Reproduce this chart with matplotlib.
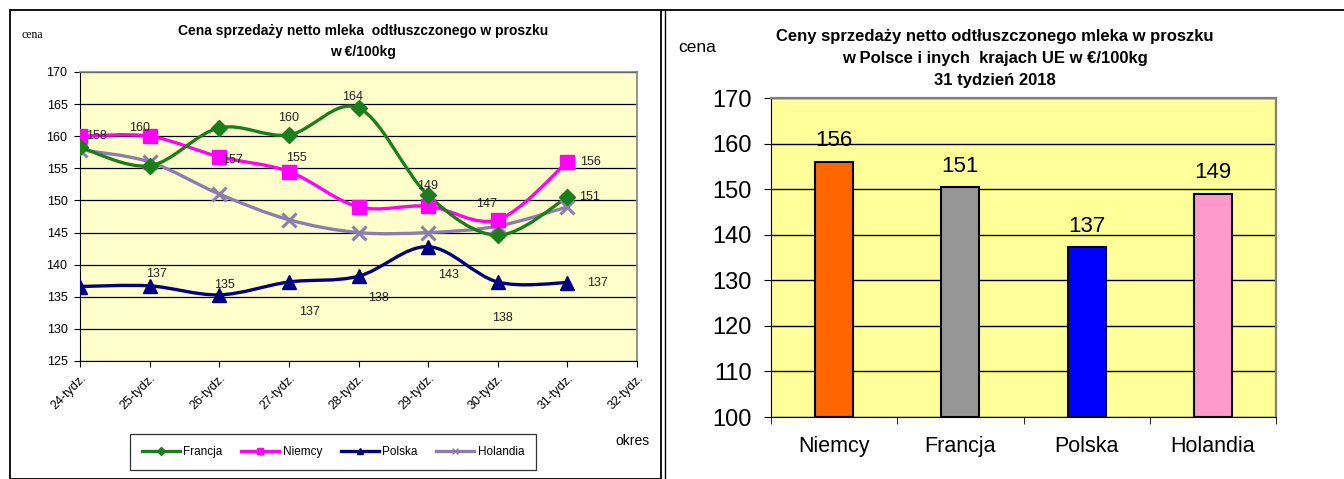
import numpy as np
import matplotlib.pyplot as plt
from matplotlib.path import Path
from matplotlib.patches import PathPatch, Rectangle
from matplotlib.lines import Line2D

plt.rcParams['font.family'] = ['Liberation Sans', 'DejaVu Sans']

# --- data: left chart (weekly prices) ---
weeks = ['24-tydz.', '25-tydz.', '26-tydz.', '27-tydz.', '28-tydz.',
         '29-tydz.', '30-tydz.', '31-tydz.', '32-tydz.']
francja = [158.3, 155.4, 161.3, 160.2, 164.4, 150.8, 144.6, 150.5]
niemcy = [160.0, 160.0, 156.8, 154.5, 149.0, 149.1, 147.0, 156.0]
polska = [136.6, 136.7, 135.3, 137.3, 138.2, 142.8, 137.3, 137.2]
holandia = [157.9, 156.0, 151.0, 147.0, 145.0, 145.0, 146.0, 149.0]

# data labels as shown on the chart: (series, week index, text)
point_labels = [
    ('Francja', 0, '158'), ('Niemcy', 1, '160'), ('Niemcy', 2, '157'),
    ('Francja', 3, '160'), ('Niemcy', 3, '155'), ('Francja', 4, '164'),
    ('Niemcy', 5, '149'), ('Niemcy', 6, '147'), ('Niemcy', 7, '156'),
    ('Francja', 7, '151'),
    ('Polska', 1, '137'), ('Polska', 2, '135'), ('Polska', 3, '137'),
    ('Polska', 4, '138'), ('Polska', 5, '143'), ('Polska', 6, '138'),
    ('Polska', 7, '137'),
]
# label offsets in pixels (dx, dy), same order as point_labels
label_offsets = [(16, 11), (-10, 8), (13, -3), (0, 17), (8, 14), (-6, 11),
                 (-1, 20), (-11, 16), (23, 0), (22, 0),
                 (7, 12), (5, 10), (21, -30), (20, -22), (20, -28), (5, -36),
                 (30, 0)]

# --- data: right chart (week 31) ---
countries = ['Niemcy', 'Francja', 'Polska', 'Holandia']
week31 = [156.0, 150.5, 137.2, 149.0]
week31_labels = ['156', '151', '137', '149']


def smooth_path(xs, ys):
    # Excel-like smoothed line: cubic Bezier through every point
    pts = np.column_stack([xs, ys]).astype(float)
    n = len(pts)
    verts = [pts[0]]
    codes = [Path.MOVETO]
    for i in range(n - 1):
        p0 = pts[i - 1] if i > 0 else pts[i]
        p1 = pts[i]
        p2 = pts[i + 1]
        p3 = pts[i + 2] if i + 2 < n else pts[i + 1]
        c1 = p1 + (p2 - p0) / 6.0
        c2 = p2 - (p3 - p1) / 6.0
        verts += [c1, c2, p2]
        codes += [Path.CURVE4] * 3
    return Path(verts, codes)


fig = plt.figure(figsize=(13.44, 4.79), dpi=100)
W, H = 1344, 479

# panel frames
fig.add_artist(Rectangle((10 / W, 0), (661 - 10) / W, 1 - 10 / H,
                         transform=fig.transFigure, fill=False, lw=1.3, ec='black'))
fig.add_artist(Line2D([661 / W, 1], [1 - 10 / H, 1 - 10 / H],
                      transform=fig.transFigure, lw=1.3, color='black'))
fig.add_artist(Line2D([665 / W, 665 / W], [0, 1 - 10 / H],
                      transform=fig.transFigure, lw=1.0, color='black'))

# ---------------- left chart ----------------
ax = fig.add_axes([80 / W, 1 - 361 / H, (637 - 80) / W, (361 - 72) / H])
ax.set_facecolor('#FFFFCC')
ax.set_xlim(0, len(weeks) - 1)
ax.set_ylim(125, 170)
ax.set_yticks(range(125, 171, 5))
ax.grid(axis='y', color='black', lw=0.9)
ax.set_axisbelow(True)
for s in ['top', 'right']:
    ax.spines[s].set_color('#808080')
    ax.spines[s].set_linewidth(1.2)
for s in ['left', 'bottom']:
    ax.spines[s].set_color('black')
ax.set_xticks(range(len(weeks)))
ax.set_xticklabels(weeks, rotation=45, ha='right', rotation_mode='anchor', fontsize=9)
ax.tick_params(axis='y', labelsize=9, length=4, direction='out', pad=5)
ax.tick_params(axis='x', length=4, direction='out', pad=4)

series = {
    'Francja': (francja, '#1A7F1A', 'D', 8),
    'Niemcy': (niemcy, '#FF00FF', 's', 10),
    'Polska': (polska, '#000080', '^', 10),
    'Holandia': (holandia, '#8E7CB0', 'x', 10),
}
draw_order = ['Polska', 'Holandia', 'Niemcy', 'Francja']
handles = {}
for name in draw_order:
    vals, col, mk, ms = series[name]
    xs = np.arange(len(vals))
    ax.add_patch(PathPatch(smooth_path(xs, vals), fill=False, ec=col, lw=2.4,
                           capstyle='round', joinstyle='round', zorder=3))
    ax.plot(xs, vals, ls='none', marker=mk, ms=ms, color=col,
            mec=col, mew=2.2 if mk == 'x' else 1, zorder=4)
    handles[name] = Line2D([], [], color=col, lw=2.4, marker=mk, ms=4, mew=1)

px = 72 / 100  # points per pixel
for (name, idx, txt), (dx, dy) in zip(point_labels, label_offsets):
    vals = series[name][0]
    ax.annotate(txt, (idx, vals[idx]), xytext=(dx * px, dy * px),
                textcoords='offset points', ha='center', va='center',
                fontsize=9, color='#222222', zorder=5)

fig.text(363 / W, 1 - 31 / H, 'Cena sprzedaży netto mleka  odtłuszczonego w proszku',
         ha='center', va='center', fontsize=10, fontweight='bold')
fig.text(363 / W, 1 - 52 / H, 'w €/100kg', ha='center', va='center',
         fontsize=10, fontweight='bold')
fig.text(22 / W, 1 - 35 / H, 'cena', ha='left', va='center', fontsize=8.5,
         family='Liberation Serif')
fig.text(632 / W, 1 - 441 / H, 'okres', ha='center', va='center', fontsize=10)

leg = fig.legend([handles[n] for n in ['Francja', 'Niemcy', 'Polska', 'Holandia']],
                 ['Francja', 'Niemcy', 'Polska', 'Holandia'],
                 loc='center', bbox_to_anchor=(333 / W, 1 - 452 / H), ncol=4,
                 fontsize=8.5, frameon=True, fancybox=False, edgecolor='black',
                 handlelength=3.2, handletextpad=0.3, columnspacing=1.6,
                 borderpad=1.0)
leg.get_frame().set_linewidth(0.9)

# ---------------- right chart ----------------
ax2 = fig.add_axes([771 / W, 1 - 417 / H, (1276 - 771) / W, (417 - 98) / H])
ax2.set_facecolor('#FFFF99')
bar_colors = ['#FF6600', '#969696', '#0000FF', '#FF99CC']
xpos = np.arange(len(countries))
ax2.bar(xpos, np.array(week31) - 100, bottom=100, width=0.3, color=bar_colors,
        edgecolor='black', lw=1.5, zorder=3)
for x, v, t in zip(xpos, week31, week31_labels):
    ax2.annotate(t, (x, v), xytext=(0, 15), textcoords='offset points',
                 ha='center', va='center', fontsize=16)
ax2.set_xlim(-0.5, len(countries) - 0.5)
ax2.set_ylim(100, 170)
ax2.set_yticks(range(100, 171, 10))
ax2.grid(axis='y', color='black', lw=1.0)
ax2.set_axisbelow(True)
ax2.set_xticks(xpos)
ax2.set_xticklabels(countries, fontsize=15.5)
ax2.set_xticks(np.arange(-0.5, len(countries), 1), minor=True)
ax2.tick_params(axis='x', which='major', length=0, pad=14)
ax2.tick_params(axis='x', which='minor', length=5)
ax2.tick_params(axis='y', labelsize=17, length=5, pad=9)
for s in ['top', 'right']:
    ax2.spines[s].set_color('#808080')
    ax2.spines[s].set_linewidth(1.6)

fig.text(995 / W, 1 - 37 / H, 'Ceny sprzedaży netto odtłuszczonego mleka w proszku',
         ha='center', va='center', fontsize=12, fontweight='bold')
fig.text(995 / W, 1 - 59 / H, 'w Polsce i inych  krajach UE w €/100kg',
         ha='center', va='center', fontsize=12, fontweight='bold')
fig.text(995 / W, 1 - 80 / H, '31 tydzień 2018',
         ha='center', va='center', fontsize=12, fontweight='bold')
fig.text(678 / W, 1 - 48 / H, 'cena', ha='left', va='center', fontsize=12.5)

fig.savefig('out.png', dpi=100)
